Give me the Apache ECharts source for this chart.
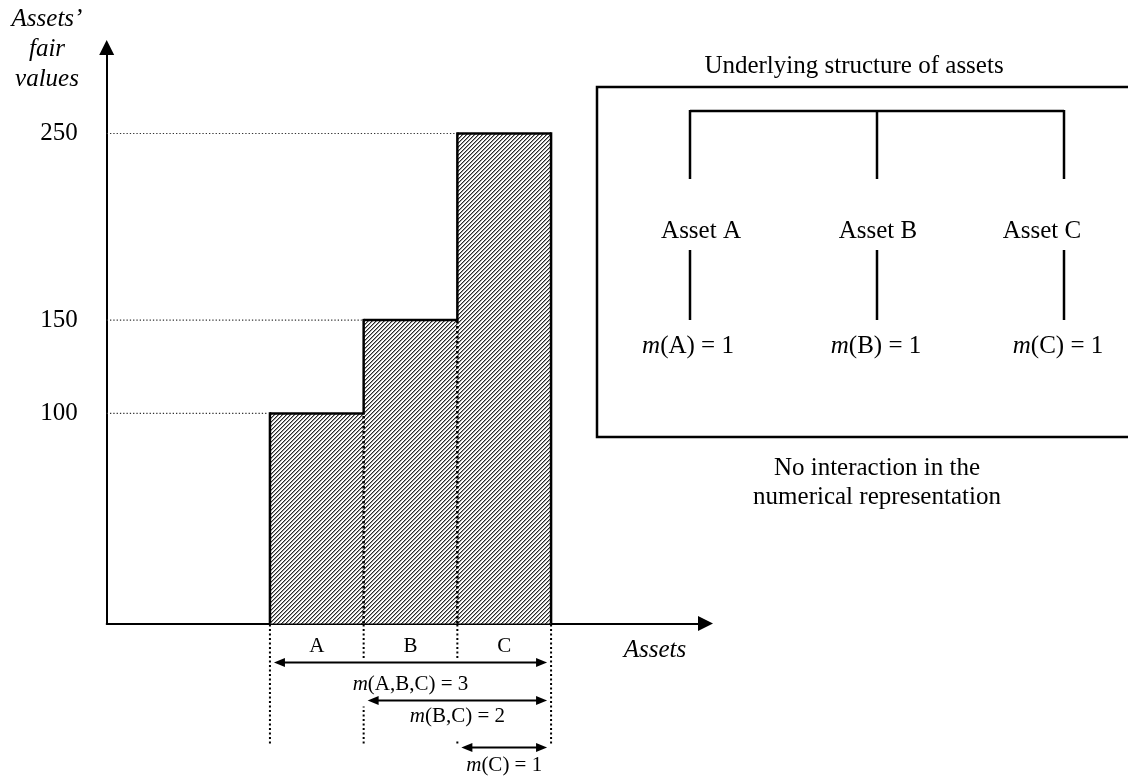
<!DOCTYPE html>
<html>
<head>
<meta charset="utf-8">
<script src="https://cdn.jsdelivr.net/npm/echarts@6/dist/echarts.min.js"></script>
<style>
html,body{margin:0;padding:0;background:#fff;}
#main{width:1128px;height:778px;}
</style>
</head>
<body>
<div id="main"></div>
<script>
// ---------- data ----------
const categories = ['A', 'B', 'C'];
const fairValues = [100, 150, 250];
const yTickValues = [100, 150, 250];
const bracketFrom = [0, 1, 2];
const bracketTo = [2, 2, 2];
const bracketMass = [3, 2, 1];
const structureAssets = ['Asset A', 'Asset B', 'Asset C'];
const structureMass = [1, 1, 1];

// ---------- styling ----------
const FONT = "'Liberation Serif', 'Times New Roman', serif";
const Y_MIN = -12.6, Y_MAX = 296.1;
const X_MIN = -2.242, X_MAX = 4.148;

// hatch pattern
const tile = document.createElement('canvas');
tile.width = 4; tile.height = 4;
(function () {
  const c = tile.getContext('2d');
  const shades = ['#262626', '#9a9a9a', '#fafafa', '#ffffff'];
  for (let x = 0; x < 4; x++) for (let y = 0; y < 4; y++) {
    c.fillStyle = shades[(x + y) % 4];
    c.fillRect(x, y, 1, 1);
  }
})();
const hatch = { image: tile, repeat: 'repeat' };

function line(p1, p2, style) {
  return { type: 'line', shape: { x1: p1[0], y1: p1[1], x2: p2[0], y2: p2[1] }, style: Object.assign({ stroke: '#000', lineWidth: 2.5 }, style || {}) };
}

function renderBar(params, api) {
  const i = api.value(0), v = api.value(1);
  const tl = api.coord([i - 0.5, v]);
  const br = api.coord([i + 0.5, Y_MIN]);
  const children = [];
  children.push({ type: 'rect', shape: { x: tl[0], y: tl[1], width: br[0] - tl[0], height: br[1] - tl[1] }, style: { fill: hatch } });
  // reference dotted line from y-axis
  const ax = api.coord([X_MIN, v]);
  children.push(line(ax, [tl[0] - 2, tl[1]], { stroke: '#333', lineWidth: 1.2, lineDash: [1.3, 2] }));
  // left edge
  if (i === 0) {
    children.push(line([tl[0], br[1]], [tl[0], tl[1] - 1.2]));
  } else {
    const prev = fairValues[i - 1];
    const pPrev = api.coord([i - 0.5, Math.min(prev, v)]);
    children.push(line([tl[0], br[1]], pPrev, { lineDash: [2.5, 2.5] }));
    if (v > prev) children.push(line([tl[0], pPrev[1] + 1.2], [tl[0], tl[1] - 1.2]));
  }
  // top edge
  children.push(line([tl[0], tl[1]], [br[0], tl[1]]));
  // right edge of last bar
  if (i === fairValues.length - 1) {
    children.push(line([br[0], tl[1] - 1.2], [br[0], br[1]]));
  }
  return { type: 'group', children: children };
}

function renderGuide(params, api) {
  const b = api.value(0);
  const p = api.coord([b - 0.5, Y_MIN]);
  return line([p[0], p[1] + 1], [p[0], p[1] + 122], { lineDash: [2, 2.5], lineWidth: 2 });
}

const ARROW_ROWS = [39, 77, 124];
const LABEL_ROWS = [59.5, 96.5, 141.5];
const LABEL_PAD = [[14.5, 6, 11.5, 6], [4.5, 6, 12.5, 6], [2, 2, 2, 2]];
function arrowHead(x, y, dir) {
  return { type: 'polygon', shape: { points: [[x, y], [x - dir * 11, y - 4.5], [x - dir * 11, y + 4.5]] }, style: { fill: '#000' } };
}
function renderBracket(params, api) {
  const k = params.dataIndex;
  const from = api.value(0), to = api.value(1), mass = api.value(2);
  const pL = api.coord([from - 0.5, Y_MIN]);
  const pR = api.coord([to + 0.5, Y_MIN]);
  const x1 = pL[0] + 4, x2 = pR[0] - 4;
  const y = pL[1] + ARROW_ROWS[k];
  const ly = pL[1] + LABEL_ROWS[k];
  const names = categories.slice(from, to + 1).join(',');
  return {
    type: 'group', children: [
      { type: 'text', style: { text: '{i|m}(' + names + ') = ' + mass, x: (x1 + x2) / 2, y: ly, align: 'center', verticalAlign: 'middle',
        fontSize: 21, fontFamily: FONT, fill: '#000', lineHeight: 21, backgroundColor: k < 2 ? '#fff' : 'transparent', padding: LABEL_PAD[k],
        rich: { i: { fontStyle: 'italic', fontSize: 21, fontFamily: FONT, fill: '#000' } } } },
      line([x1 + 6, y], [x2 - 6, y], { lineWidth: 2 }),
      arrowHead(x1, y, -1),
      arrowHead(x2, y, 1)
    ]
  };
}

// right-hand structure diagram (annotation)
const graphics = [];
const txt = (text, x, y, extra) => ({ type: 'text', x: x, y: y, style: Object.assign({ text: text, fontSize: 25, fontFamily: FONT, fill: '#000', align: 'center', verticalAlign: 'middle' }, extra || {}) });
graphics.push(txt('Underlying structure of assets', 854, 66));
graphics.push({ type: 'rect', shape: { x: 597, y: 87, width: 560, height: 350 }, style: { fill: 'none', stroke: '#000', lineWidth: 2.5 } });
const treeX = [690, 877, 1064];
const assetTextX = [701, 878, 1042];
const massTextX = [688, 876, 1058];
graphics.push({ type: 'line', shape: { x1: treeX[0], y1: 111, x2: treeX[2], y2: 111 }, style: { stroke: '#000', lineWidth: 2.5 } });
structureAssets.forEach((name, i) => {
  graphics.push({ type: 'line', shape: { x1: treeX[i], y1: 110, x2: treeX[i], y2: 179 }, style: { stroke: '#000', lineWidth: 2.5 } });
  graphics.push(txt(name, assetTextX[i], 231));
  graphics.push({ type: 'line', shape: { x1: treeX[i], y1: 250, x2: treeX[i], y2: 320 }, style: { stroke: '#000', lineWidth: 2.5 } });
  const letter = name.split(' ')[1];
  graphics.push(txt('{i|m}(' + letter + ') = ' + structureMass[i], massTextX[i], 346,
    { rich: { i: { fontStyle: 'italic', fontSize: 25, fontFamily: FONT, fill: '#000' } } }));
});
graphics.push(txt('No interaction in the\nnumerical representation', 877, 483, { lineHeight: 29 }));
// axis names
graphics.push(txt('Assets’\nfair\nvalues', 47, 4, { fontStyle: 'italic', lineHeight: 30, verticalAlign: 'top' }));
graphics.push(txt('Assets', 655, 650, { fontStyle: 'italic' }));

const chart = echarts.init(document.getElementById('main'));
chart.setOption({
  animation: false,
  backgroundColor: '#fff',
  grid: { left: 106.7, right: 422.5, top: 47.5, bottom: 154.5 },
  xAxis: {
    type: 'value', min: X_MIN, max: X_MAX,
    splitLine: { show: false }, axisTick: { show: false },
    axisLine: { onZero: false, lineStyle: { color: '#000', width: 2 }, symbol: ['none', 'triangle'], symbolSize: [15, 15] },
    axisLabel: { customValues: [0, 1, 2], formatter: v => categories[Math.round(v)], margin: 12, fontSize: 21, color: '#000', fontFamily: FONT }
  },
  yAxis: {
    type: 'value', min: Y_MIN, max: Y_MAX,
    splitLine: { show: false }, axisTick: { show: false },
    axisLine: { onZero: false, lineStyle: { color: '#000', width: 2 }, symbol: ['none', 'triangle'], symbolSize: [15, 15] },
    axisLabel: { customValues: yTickValues, margin: 29, fontSize: 25, color: '#000', fontFamily: FONT }
  },
  graphic: graphics,
  series: [
    { type: 'custom', name: 'guides', z: 1, clip: false, renderItem: renderGuide,
      data: Array.from({ length: categories.length + 1 }, (_, b) => [b]) },
    { type: 'custom', name: 'Assets’ fair values', z: 2, clip: false, renderItem: renderBar,
      data: fairValues.map((v, i) => [i, v]) },
    { type: 'custom', name: 'brackets', z: 3, clip: false, renderItem: renderBracket,
      data: bracketFrom.map((f, k) => [f, bracketTo[k], bracketMass[k]]) }
  ]
});
</script>
</body>
</html>
